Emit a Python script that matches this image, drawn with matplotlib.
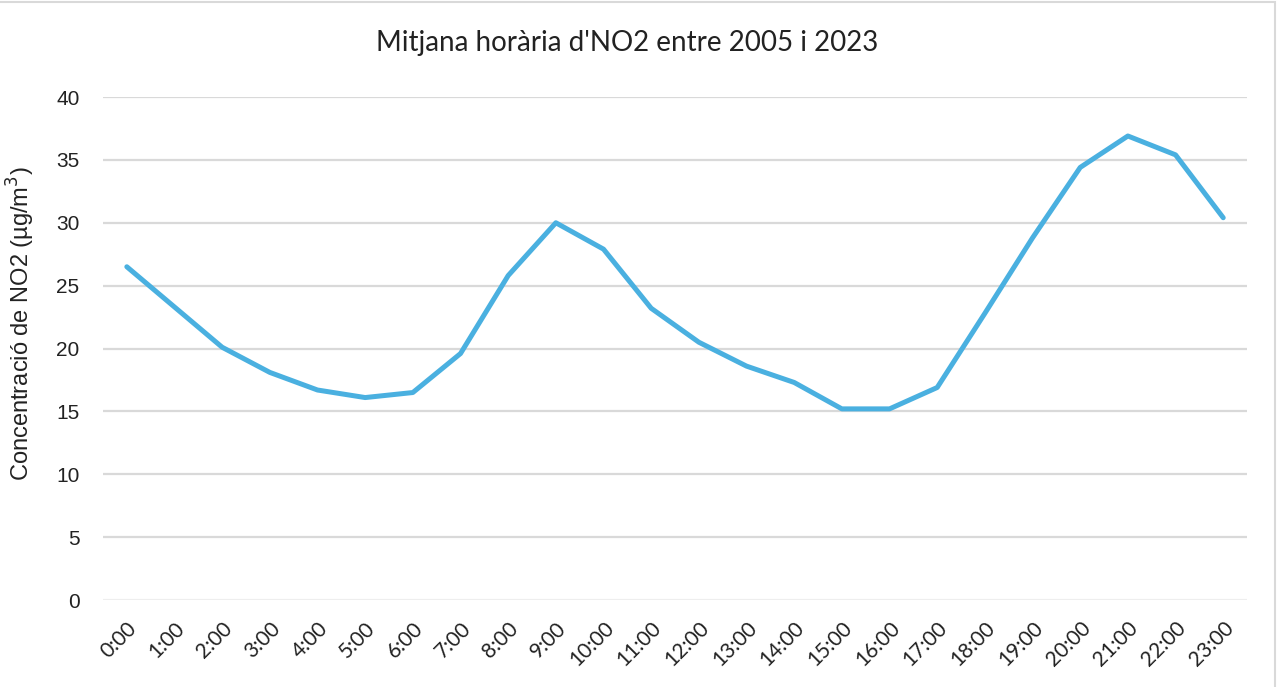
import numpy as np
import matplotlib.pyplot as plt
from matplotlib.patches import Rectangle

# Dades: mitjana horària d'NO2 (µg/m3)
hores = ['0:00', '1:00', '2:00', '3:00', '4:00', '5:00', '6:00', '7:00',
         '8:00', '9:00', '10:00', '11:00', '12:00', '13:00', '14:00', '15:00',
         '16:00', '17:00', '18:00', '19:00', '20:00', '21:00', '22:00', '23:00']
no2 = [26.5, 23.3, 20.1, 18.1, 16.7, 16.1, 16.5, 19.6,
       25.8, 30.0, 27.9, 23.2, 20.5, 18.6, 17.3, 15.2,
       15.2, 16.9, 22.8, 28.8, 34.4, 36.9, 35.4, 30.4]
yticks = [0, 5, 10, 15, 20, 25, 30, 35, 40]

fig = plt.figure(figsize=(12.81, 6.87), dpi=100)
ax = fig.add_axes([0.0804, 0.1266, 0.8931, 0.7322])

x = np.arange(len(hores))
ax.plot(x, no2, color='#4AB0E0', linewidth=3.6, solid_capstyle='round',
        solid_joinstyle='round', zorder=3)

ax.set_xlim(-0.5, len(hores) - 0.5)
ax.set_ylim(0, 40)
ax.set_yticks(yticks)
ax.set_yticklabels([str(v) for v in yticks], fontfamily='Liberation Sans', fontsize=15)
ax.set_xticks(x)
ax.set_xticklabels(hores, rotation=45, ha='right', rotation_mode='anchor',
                   fontfamily='Lato', fontsize=15)
ax.tick_params(axis='both', length=0, colors='#222222')
ax.tick_params(axis='y', pad=17)
ax.tick_params(axis='x', pad=13)

ax.grid(axis='y', color='#D9D9D9', linewidth=1.6, zorder=0)
ax.yaxis.get_gridlines()[0].set_color('#EEEEEE')
for s in ax.spines.values():
    s.set_visible(False)

fig.text(0.4895, 0.937, "Mitjana horària d'NO2 entre 2005 i 2023", fontfamily='Lato',
         fontsize=20, color='#222222', ha='center', va='center')
ax.set_ylabel('Concentració de NO2 (µg/m$^3$)', fontfamily='Liberation Sans',
              fontsize=17, color='#222222')
ax.yaxis.set_label_coords(-0.058, 0.549)

# vora del gràfic
fig.patches.append(Rectangle((-0.01, -0.01), 1.005, 1.007, transform=fig.transFigure,
                             fill=False, edgecolor='#D9D9D9', linewidth=1.5))

fig.savefig('out.png', dpi=100)
